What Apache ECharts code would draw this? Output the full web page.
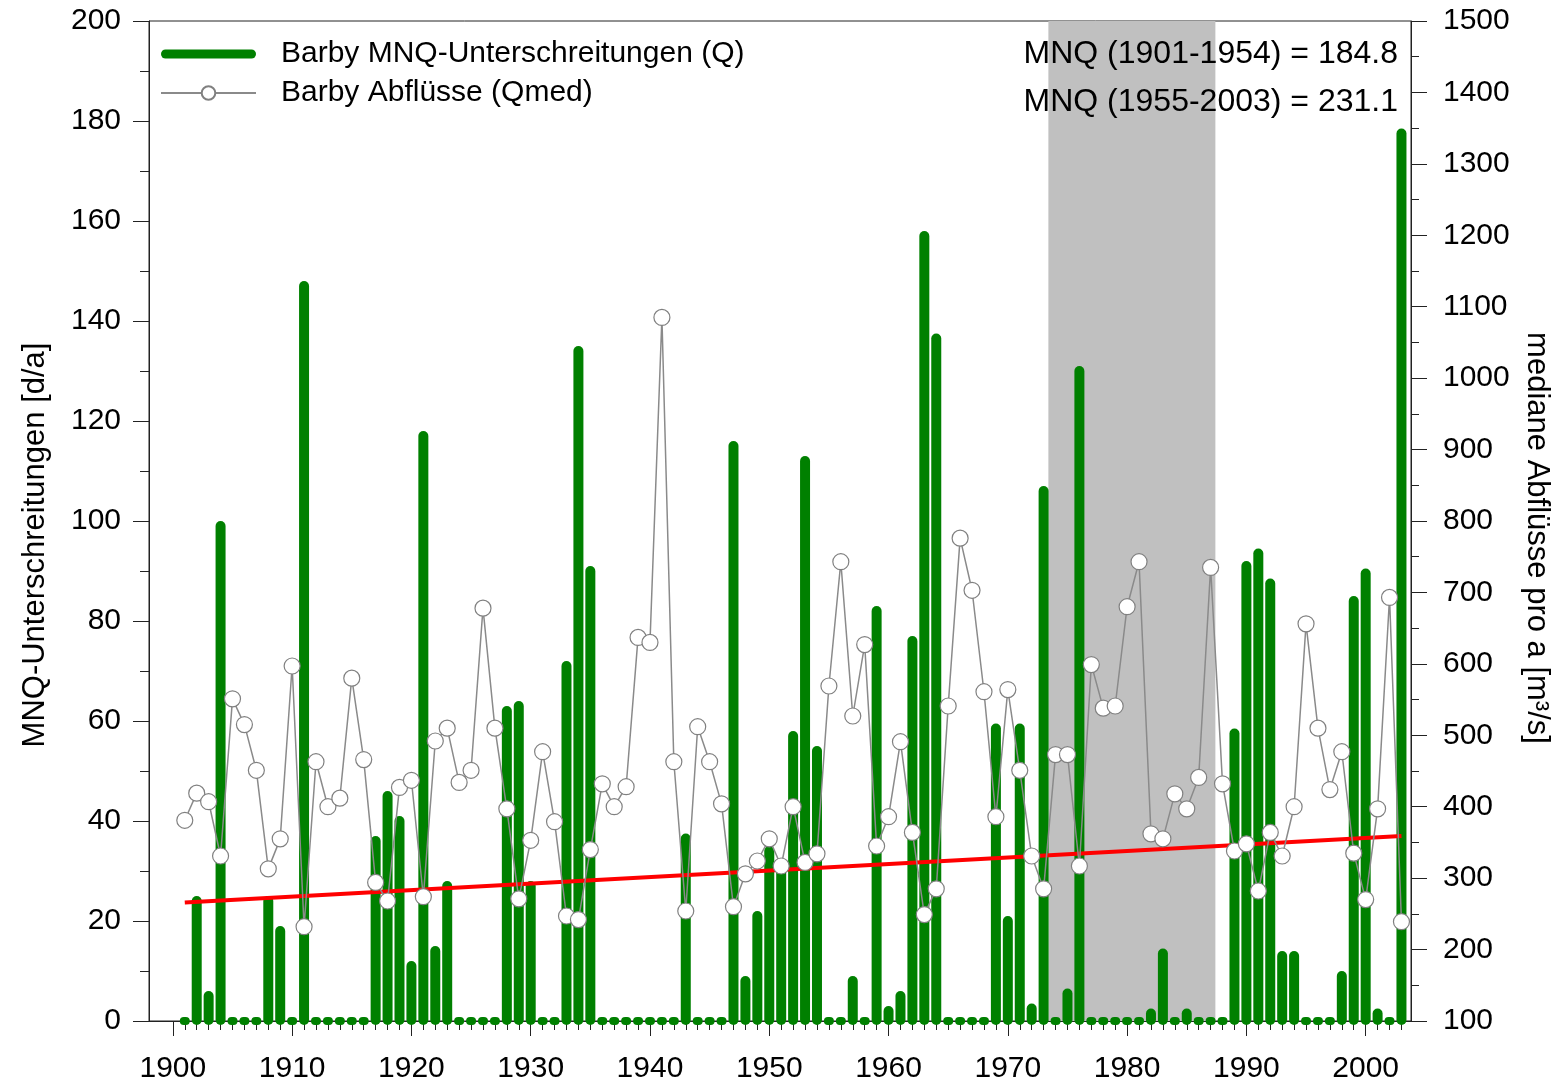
<!DOCTYPE html>
<html lang="de">
<head>
<meta charset="UTF-8">
<title>Barby MNQ-Unterschreitungen</title>
<style>html,body{margin:0;padding:0;background:#fff}</style>
</head>
<body>
<div id="main" style="width:1556px;height:1087px"></div>
<script src="https://cdn.jsdelivr.net/npm/echarts@6/dist/echarts.min.js"></script>
<script>
const firstYear = 1901;

// Tage unter MNQ je Jahr (1901-2003)
const mnqDays = [
    0, 25, 6, 100, 0, 0, 0, 25, 19, 0,
    148, 0, 0, 0, 0, 0, 37, 46, 41, 12,
    118, 15, 28, 0, 0, 0, 0, 63, 64, 28,
    0, 0, 72, 135, 91, 0, 0, 0, 0, 0,
    0, 0, 37.5, 0, 0, 0, 116, 9, 22, 35,
    32, 58, 113, 55, 0, 0, 9, 0, 83, 3,
    6, 77, 158, 137.5, 0, 0, 0, 0, 59.5, 21,
    59.5, 3.5, 107, 0, 6.5, 131, 0, 0, 0, 0,
    0, 2.5, 14.5, 0, 2.5, 0, 0, 0, 58.5, 92,
    94.5, 88.5, 14, 14, 0, 0, 0, 10, 85, 90.5,
    2.5, 0, 178.5
];

// mediane Abfluesse je Jahr [m3/s] (1901-2003)
const qmed = [
    381, 419, 407, 331, 551, 515, 451, 313, 355, 597,
    232, 463, 400, 412, 580, 466, 294, 268, 427, 437,
    274, 492, 510, 434, 451, 678, 510, 397, 271, 353,
    477, 379, 247, 242, 340, 432, 400, 428, 637, 630,
    1085, 463, 254, 512, 463, 404, 260, 306, 324, 355,
    317, 400, 322, 334, 569, 743, 527, 627, 345, 386,
    491, 364, 249, 285, 541, 776, 703, 561, 386, 564,
    451, 331, 285, 473, 473, 317, 599, 538, 541, 680,
    743, 362, 355, 418, 397, 441, 735, 432, 338, 348,
    282, 364, 331, 400, 656, 510, 424, 477, 335, 270,
    397, 693, 239
];

const trendYears = [1901, 2003];
const trendDays = [23.7, 37.0];
const decadeTicks = [1900, 1910, 1920, 1930, 1940, 1950, 1960, 1970, 1980, 1990, 2000];
const periodBand = [1973.4, 1987.4];
const mnqNotes = ['MNQ (1901-1954) = 184.8', 'MNQ (1955-2003) = 231.1'];

const years = mnqDays.map((_, i) => firstYear + i);
const yearTicks = [1900].concat(years);

const font = "'Liberation Sans', Arial, sans-serif";
const axisColor = '#222';
const plain = v => String(v);

const chart = echarts.init(document.getElementById('main'));

const option = {
    animation: false,
    grid: {
        left: 149, right: 145, top: 21, bottom: 66,
        outerBoundsMode: 'none',
        containLabel: false,
        show: true, borderColor: axisColor, borderWidth: 1
    },
    legend: {
        orient: 'vertical',
        left: 155,
        top: 34,
        itemWidth: 95,
        itemHeight: 17,
        itemGap: 9,
        textStyle: { fontSize: 30, fontFamily: font, color: '#000', padding: [0, 0, 0, 20] },
        data: [
            {
                name: 'Barby MNQ-Unterschreitungen (Q)',
                icon: 'path://M0,0M0,17M4.5,4L90.5,4A4.5,4.5,0,0,1,90.5,13L4.5,13A4.5,4.5,0,0,1,4.5,4Z'
            },
            { name: 'Barby Abflüsse (Qmed)' }
        ]
    },
    xAxis: [
        {
            type: 'value',
            min: 1898,
            max: 2003.8,
            axisLine: { lineStyle: { color: axisColor } },
            axisTick: { customValues: yearTicks, length: 9, lineStyle: { color: axisColor } },
            axisLabel: {
                customValues: decadeTicks,
                formatter: plain,
                margin: 33,
                fontSize: 30,
                fontFamily: font,
                color: '#000'
            },
            splitLine: { show: false }
        },
        {
            type: 'value',
            position: 'bottom',
            offset: 0,
            min: 1898,
            max: 2003.8,
            axisLine: { show: false },
            axisTick: { customValues: decadeTicks, length: 15, lineStyle: { color: axisColor } },
            axisLabel: { show: false },
            splitLine: { show: false }
        }
    ],
    yAxis: [
        {
            type: 'value',
            min: 0,
            max: 200,
            interval: 20,
            name: 'MNQ-Unterschreitungen [d/a]',
            nameLocation: 'middle',
            nameGap: 98,
            nameTextStyle: { fontSize: 31, fontFamily: font, color: '#000', padding: [0, 48, 0, 0] },
            axisLine: { show: true, lineStyle: { color: axisColor } },
            axisTick: { show: true, length: 16, lineStyle: { color: axisColor } },
            minorTick: { show: true, splitNumber: 2, length: 9, lineStyle: { color: axisColor } },
            axisLabel: { margin: 28, fontSize: 30, fontFamily: font, color: '#000', formatter: plain },
            splitLine: { show: false }
        },
        {
            type: 'value',
            position: 'right',
            min: 100,
            max: 1500,
            interval: 100,
            name: 'mediane Abflüsse pro a [m³/s]',
            nameLocation: 'middle',
            nameRotate: -90,
            nameGap: 98,
            nameTextStyle: { fontSize: 31, fontFamily: font, color: '#000', padding: [0, 0, 0, 34] },
            axisLine: { show: true, lineStyle: { color: axisColor } },
            axisTick: { show: true, length: 16, lineStyle: { color: axisColor } },
            minorTick: { show: true, splitNumber: 2, length: 8, lineStyle: { color: axisColor } },
            axisLabel: { margin: 32, fontSize: 30, fontFamily: font, color: '#000', formatter: plain },
            splitLine: { show: false }
        }
    ],
    graphic: mnqNotes.map((t, i) => ({
        type: 'text',
        right: 158,
        top: 38 + i * 48,
        z: 10,
        style: { text: t, font: '32px ' + font, fill: '#000' }
    })),
    series: [
        {
            type: 'line',
            name: 'band',
            data: [],
            silent: true,
            markArea: {
                silent: true,
                itemStyle: { color: '#c0c0c0' },
                data: [[{ xAxis: periodBand[0] }, { xAxis: periodBand[1] }]]
            }
        },
        {
            type: 'custom',
            name: 'Barby MNQ-Unterschreitungen (Q)',
            xAxisIndex: 0,
            yAxisIndex: 0,
            z: 2,
            itemStyle: { color: '#008000' },
            data: years.map((y, i) => [y, mnqDays[i]]),
            encode: { x: 0, y: 1 },
            renderItem: (params, api) => {
                const p = api.coord([api.value(0), api.value(1)]);
                const base = api.coord([api.value(0), 0]);
                const top = Math.min(p[1], base[1] - 4);
                return {
                    type: 'rect',
                    shape: { x: p[0] - 5, y: top, width: 10, height: base[1] + 4 - top, r: 5 },
                    style: { fill: '#008000' }
                };
            }
        },
        {
            type: 'line',
            name: 'trend',
            xAxisIndex: 0,
            yAxisIndex: 0,
            z: 3,
            symbol: 'none',
            lineStyle: { color: '#ff0000', width: 4 },
            data: trendYears.map((y, i) => [y, trendDays[i]])
        },
        {
            type: 'line',
            name: 'Barby Abflüsse (Qmed)',
            xAxisIndex: 0,
            yAxisIndex: 1,
            z: 4,
            symbol: 'circle',
            symbolSize: 16,
            color: '#888',
            lineStyle: { color: '#8a8a8a', width: 1.5 },
            itemStyle: { color: '#fff', borderColor: '#808080', borderWidth: 1.2 },
            data: years.map((y, i) => [y, qmed[i]])
        }
    ]
};

chart.setOption(option);
</script>
</body>
</html>
